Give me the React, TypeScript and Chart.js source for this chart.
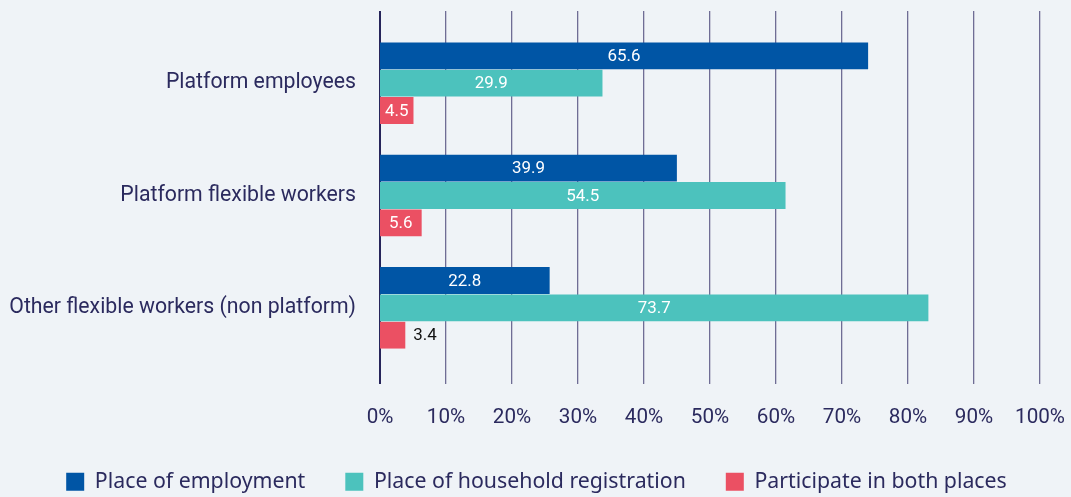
import React, { useEffect, useRef } from 'react';
import { Chart, registerables } from 'chart.js';

Chart.register(...registerables);

// ---- data ----
const categories = [
  'Platform employees',
  'Platform flexible workers',
  'Other flexible workers (non platform)',
];
const seriesNames = [
  'Place of employment',
  'Place of household registration',
  'Participate in both places',
];
const employment = [65.6, 39.9, 22.8];
const household = [29.9, 54.5, 73.7];
const both = [4.5, 5.6, 3.4];
// percent axis tick range (labels 0%..100%)
const tickMin = 0;
const tickMax = 100;
const tickStep = 10;
// the bars in the source are drawn against a shorter value range than the printed axis
const barScaleMax = 88.7;

// ---- styles ----
const BG = '#eff3f7';
const TEXT = '#2b2a5e';
const BLUE = '#0055a5';
const TEAL = '#4cc2bd';
const RED = '#eb5063';
const GRID = '#6f6d95';
const AXIS = '#26245a';
const CONDENSED = 'Roboto, "Liberation Sans", sans-serif';
const LEGEND_FONT = '"Noto Sans", "Open Sans", sans-serif';
const PAD_LEFT = 2;
const PLOT_LEFT = 380;
const RIGHT_GUTTER = 31;
const X_TICK_LEN = 20;
const X_TICK_PAD = 20.8;
const X_TICK_LH = 26.4;

// font size that makes a sample string a given width in the chosen family
function fitFontSize(sample: string, family: string, targetWidth: number) {
  const c = document.createElement('canvas').getContext('2d');
  if (!c) return 20;
  c.font = `100px ${family}`;
  return (100 * targetWidth) / c.measureText(sample).width;
}

const gridColor = (c: any) => (c.tick && c.tick.value === 0 ? AXIS : GRID);
const gridWidth = (c: any) => (c.tick && c.tick.value === 0 ? 2 : 1.3);

export default function App() {
  const ref = useRef<HTMLCanvasElement | null>(null);

  useEffect(() => {
    if (!ref.current) return;
    const catSize = fitFontSize(categories[2], CONDENSED, 347);
    const tickSize = fitFontSize('100%', CONDENSED, 50);
    const valueSize = fitFontSize('22.8', CONDENSED, 33);

    const valueLabels = {
      id: 'valueLabels',
      afterDatasetsDraw(chart: any) {
        const ctx = chart.ctx;
        ctx.save();
        ctx.font = `${valueSize}px ${CONDENSED}`;
        ctx.textBaseline = 'middle';
        chart.data.datasets.forEach((ds: any, i: number) => {
          const meta = chart.getDatasetMeta(i);
          meta.data.forEach((bar: any, j: number) => {
            const text = String(ds.data[j]);
            const w = ctx.measureText(text).width;
            const { x, y, base } = bar.getProps(['x', 'y', 'base'], true);
            const barW = x - base;
            if (w + 6 <= barW) {
              ctx.fillStyle = '#ffffff';
              ctx.textAlign = 'center';
              ctx.fillText(text, (x + base) / 2, y + 1);
            } else {
              ctx.fillStyle = '#111111';
              ctx.textAlign = 'left';
              ctx.fillText(text, x + 8, y + 1);
            }
          });
        });
        ctx.restore();
      },
    };

    const chart = new Chart(ref.current, {
      type: 'bar',
      data: {
        labels: categories,
        datasets: [
          { label: seriesNames[0], data: employment, backgroundColor: BLUE, xAxisID: 'x', yAxisID: 'y' },
          { label: seriesNames[1], data: household, backgroundColor: TEAL, xAxisID: 'x', yAxisID: 'y' },
          { label: seriesNames[2], data: both, backgroundColor: RED, xAxisID: 'x', yAxisID: 'y' },
        ],
      },
      options: {
        animation: false,
        responsive: false,
        indexAxis: 'y',
        datasets: { bar: { categoryPercentage: 0.73, barPercentage: 0.98 } },
        layout: { padding: { top: 11, right: 0, bottom: -5.5, left: PAD_LEFT } },
        scales: {
          y: {
            type: 'category',
            offset: true,
            grid: { display: false, drawTicks: false },
            border: { display: false },
            ticks: { color: TEXT, font: { family: CONDENSED, size: catSize }, padding: 24 },
            afterFit: (s: any) => {
              s.width = PLOT_LEFT - PAD_LEFT;
              s.paddingTop = 0;
              s.paddingBottom = 0;
            },
          },
          yRight: {
            type: 'category',
            position: 'right',
            offset: true,
            grid: { display: false, drawTicks: false },
            border: { display: false },
            ticks: { display: false },
            afterFit: (s: any) => {
              s.width = RIGHT_GUTTER;
              s.paddingTop = 0;
              s.paddingBottom = 0;
            },
          },
          x: {
            type: 'linear',
            display: false,
            min: 0,
            max: barScaleMax,
            afterFit: (s: any) => {
              s.height = 0;
              s.paddingLeft = 0;
              s.paddingRight = 0;
            },
          },
          xGrid: {
            type: 'linear',
            position: 'bottom',
            min: tickMin,
            max: tickMax,
            ticks: {
              stepSize: tickStep,
              callback: (v: any) => `${v}%`,
              color: TEXT,
              font: { family: CONDENSED, size: tickSize, lineHeight: `${X_TICK_LH}px` },
              padding: X_TICK_PAD,
              maxRotation: 0,
            },
            grid: { color: gridColor, lineWidth: gridWidth, tickLength: X_TICK_LEN },
            border: { display: false },
            afterFit: (s: any) => {
              s.height = X_TICK_LEN + X_TICK_PAD + X_TICK_LH;
              s.paddingLeft = 0;
              s.paddingRight = 0;
            },
          },
          xTop: {
            type: 'linear',
            position: 'top',
            min: tickMin,
            max: tickMax,
            ticks: { display: false, stepSize: tickStep },
            grid: { drawOnChartArea: false, tickLength: 16, color: gridColor, lineWidth: gridWidth },
            border: { display: false },
          },
        },
        plugins: {
          legend: {
            position: 'bottom',
            labels: {
              boxWidth: 18,
              boxHeight: 18,
              padding: 40,
              color: TEXT,
              font: { family: LEGEND_FONT, size: 21.3 },
            },
          },
          tooltip: { enabled: false },
        },
      },
      plugins: [valueLabels],
    } as any);
    return () => chart.destroy();
  }, []);

  return (
    <div style={{ position: 'absolute', left: 0, top: 0, width: 1071, height: 497, background: BG }}>
      <canvas ref={ref} width={1071} height={497} style={{ display: 'block' }} />
    </div>
  );
}
